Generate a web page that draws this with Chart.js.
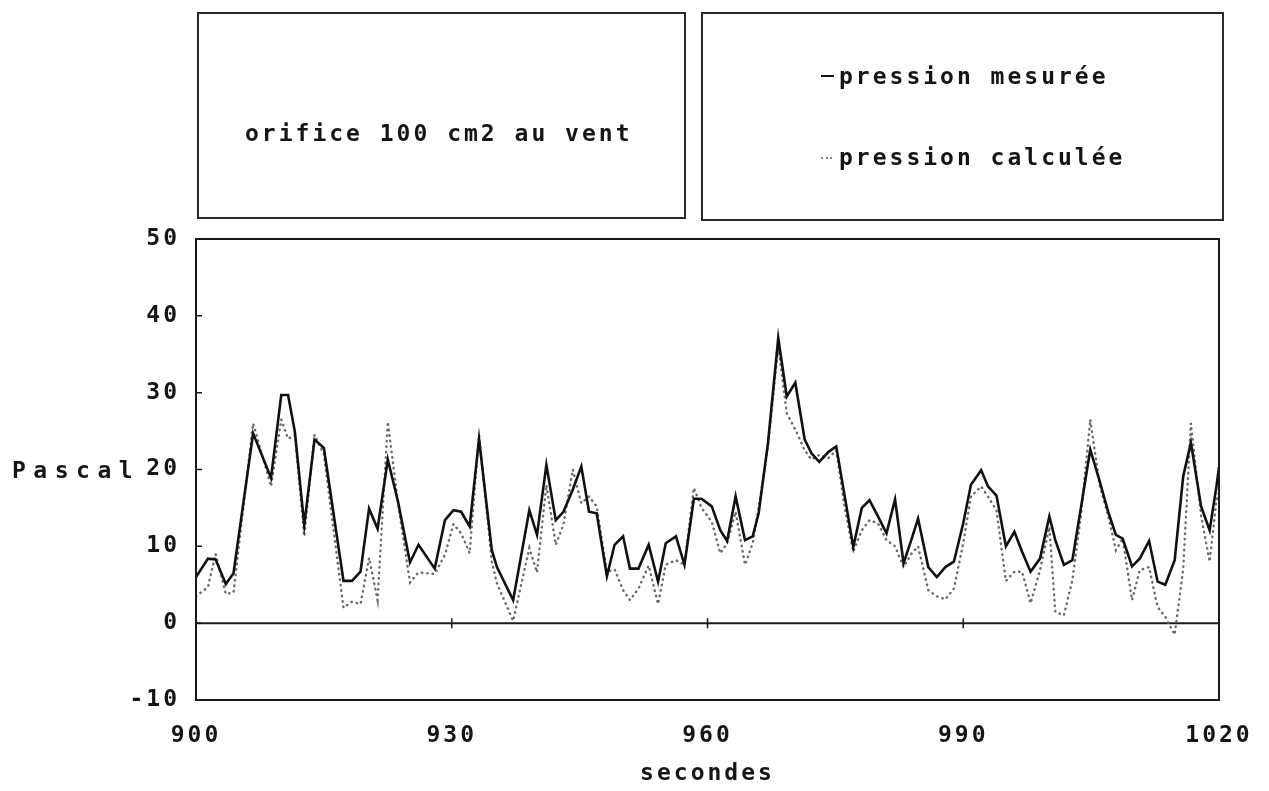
<!DOCTYPE html>
<html>
<head>
<meta charset="utf-8">
<script src="https://cdn.jsdelivr.net/npm/chart.js@4.4.1/dist/chart.umd.min.js"></script>
<style>
  html, body { margin: 0; padding: 0; background: #fff; }
  #wrap { position: relative; width: 1269px; height: 791px; overflow: hidden; background: #fff; }
  canvas { position: absolute; left: 0; top: 0; }
  .box { position: absolute; border: 2px solid #2a2a2a; box-sizing: border-box; }
  .txt { position: absolute; font-family: "DejaVu Sans Mono", monospace; font-weight: bold;
         font-size: 23px; line-height: 1; letter-spacing: 3px; white-space: pre; color: #151515; }
</style>
</head>
<body>
<div id="wrap">
  <canvas id="c" width="1269" height="791"></canvas>
  <div class="box" style="left:197px;top:12px;width:489px;height:207px;"></div>
  <div class="box" style="left:701px;top:12px;width:523px;height:209px;"></div>
  <div class="txt" style="left:245px;top:122px;">orifice 100 cm2 au vent</div>
  <div class="txt" style="left:839px;top:65px;">pression mesurée</div>
  <div class="txt" style="left:839px;top:146px;">pression calculée</div>
  <div style="position:absolute;left:821px;top:75px;width:13px;height:2px;background:#151515;"></div>
  <div style="position:absolute;left:821px;top:157px;width:11px;height:0;border-top:2px dotted #888;"></div>
  <div class="txt" style="left:12px;top:459px;letter-spacing:7.5px;">Pascal</div>
</div>
<script>
// ---- data ----
const secondes = [
  900.0, 901.4, 902.3, 903.5, 904.4, 906.7, 908.8, 910.0, 910.8, 911.6,
  912.7, 913.9, 915.0, 917.3, 918.3, 919.3, 920.3, 921.3, 922.5, 923.7,
  925.1, 926.1, 928.0, 929.2, 930.2, 931.1, 932.1, 933.2, 934.7, 935.3,
  937.2, 939.1, 940.0, 941.1, 942.2, 943.1, 944.2, 945.2, 946.1, 947.0,
  948.2, 949.1, 950.1, 950.9, 951.9, 953.1, 954.2, 955.1, 956.3, 957.3,
  958.4, 959.3, 960.5, 961.5, 962.3, 963.3, 964.4, 965.3, 966.0, 967.1,
  968.3, 969.3, 970.3, 971.4, 972.2, 973.1, 974.2, 975.1, 976.1, 977.1,
  978.1, 979.0, 980.0, 981.0, 982.0, 983.0, 983.9, 984.7, 985.9, 986.9,
  987.9, 988.9, 990.0, 990.9, 992.1, 992.9, 993.9, 995.0, 996.0, 996.9,
  997.9, 999.0, 1000.1, 1000.8, 1001.8, 1002.8, 1003.8, 1004.9, 1006.0, 1007.0,
  1007.9, 1008.7, 1009.8, 1010.7, 1011.8, 1012.8, 1013.7, 1014.8, 1015.8, 1016.7,
  1017.9, 1018.9, 1019.7, 1020.0
];
const pressionMesuree = [
  6.0, 8.4, 8.3, 5.1, 6.5, 24.7, 18.9, 29.7, 29.7, 24.9,
  12.8, 23.9, 22.8, 5.5, 5.5, 6.7, 14.9, 12.3, 21.3, 15.8,
  7.9, 10.2, 7.1, 13.4, 14.7, 14.5, 12.6, 24.0, 9.5, 7.3,
  3.0, 14.7, 11.5, 20.6, 13.4, 14.5, 17.4, 20.4, 14.5, 14.3,
  6.1, 10.2, 11.3, 7.1, 7.1, 10.2, 5.4, 10.4, 11.3, 7.6,
  16.2, 16.2, 15.2, 12.1, 10.7, 16.5, 10.8, 11.3, 14.3, 23.5,
  37.1, 29.5, 31.3, 23.9, 22.1, 21.0, 22.3, 23.0, 16.5, 9.9,
  15.0, 16.0, 13.9, 11.7, 16.1, 7.8, 10.8, 13.6, 7.3, 6.0,
  7.3, 8.0, 13.0, 18.0, 19.9, 17.8, 16.6, 10.0, 11.9, 9.3,
  6.7, 8.4, 13.9, 10.8, 7.6, 8.2, 15.0, 22.6, 18.5, 14.5,
  11.5, 11.0, 7.4, 8.4, 10.7, 5.4, 5.0, 8.2, 19.1, 23.5,
  15.2, 12.1, 17.8, 20.3
];
const pressionCalculee = [
  3.5, 4.7, 9.0, 3.8, 4.0, 26.0, 17.8, 26.5, 24.0, 24.5,
  11.3, 24.5, 22.0, 2.0, 2.8, 2.5, 8.5, 3.0, 26.2, 15.6,
  5.3, 6.6, 6.4, 8.9, 12.9, 11.7, 9.1, 24.5, 8.0, 5.2,
  0.3, 9.8, 6.6, 18.0, 10.2, 12.8, 20.0, 15.6, 16.5, 15.2,
  6.7, 7.0, 4.3, 3.0, 4.5, 7.5, 2.5, 7.6, 8.2, 7.6,
  17.6, 15.0, 13.2, 9.1, 10.4, 14.5, 7.6, 10.4, 15.0, 23.0,
  36.0, 27.3, 25.2, 22.5, 21.3, 21.9, 21.5, 22.5, 15.0, 9.3,
  12.1, 13.4, 13.0, 10.8, 10.0, 7.3, 9.0, 10.0, 4.3, 3.5,
  3.1, 4.5, 10.4, 16.5, 17.8, 16.5, 14.7, 5.5, 6.7, 6.7,
  2.6, 6.9, 12.5, 1.5, 1.0, 5.6, 14.0, 26.5, 18.0, 14.0,
  9.5, 11.0, 3.0, 6.9, 7.3, 2.1, 0.8, -1.5, 7.0, 26.0,
  14.0, 8.0, 16.0, 17.0
];
const xTickValues = [900, 930, 960, 990, 1020];
const yTickValues = [-10, 0, 10, 20, 30, 40, 50];

const FONT = { family: '"DejaVu Sans Mono", monospace', size: 23, weight: 'bold' };

const framePlugin = {
  id: 'frame',
  beforeDraw(chart) { chart.ctx.letterSpacing = '3px'; },
  beforeDatasetsDraw(chart) {
    const { ctx, chartArea: a, scales: { x, y } } = chart;
    ctx.save();
    ctx.letterSpacing = '0px';
    ctx.strokeStyle = '#1a1a1a';
    ctx.lineWidth = 2;
    const y0 = y.getPixelForValue(0);
    ctx.beginPath();
    ctx.moveTo(a.left, y0); ctx.lineTo(a.right, y0);
    ctx.stroke();
    ctx.lineWidth = 1.5;
    ctx.beginPath();
    xTickValues.forEach(v => {
      if (v > x.min && v < x.max) {
        const p = x.getPixelForValue(v);
        ctx.moveTo(p, y0 - 5); ctx.lineTo(p, y0 + 5);
      }
    });
    yTickValues.forEach(v => {
      if (v > y.min && v < y.max) {
        const p = y.getPixelForValue(v);
        ctx.moveTo(a.left, p); ctx.lineTo(a.left + 6, p);
      }
    });
    ctx.stroke();
    ctx.restore();
  },
  afterDraw(chart) {
    const { ctx, chartArea: a } = chart;
    ctx.save();
    ctx.strokeStyle = '#1a1a1a';
    ctx.lineWidth = 2;
    ctx.strokeRect(a.left, a.top, a.right - a.left, a.bottom - a.top);
    ctx.restore();
  }
};

const toPoints = vals => secondes.map((t, i) => ({ x: t, y: vals[i] }));

new Chart(document.getElementById('c'), {
  type: 'line',
  data: {
    datasets: [
      {
        label: 'pression mesurée',
        data: toPoints(pressionMesuree),
        borderColor: '#111',
        borderWidth: 2.6,
        pointRadius: 0,
        tension: 0,
        order: 0
      },
      {
        label: 'pression calculée',
        data: toPoints(pressionCalculee),
        borderColor: '#6a6a6a',
        borderWidth: 2.4,
        borderDash: [0.5, 5],
        borderCapStyle: 'round',
        pointRadius: 0,
        tension: 0,
        order: 1
      }
    ]
  },
  options: {
    responsive: false,
    animation: false,
    devicePixelRatio: 1,
    layout: { padding: { left: 0, top: 239, right: 50, bottom: 0 } },
    plugins: { legend: { display: false }, tooltip: { enabled: false }, title: { display: false } },
    scales: {
      x: {
        type: 'linear',
        min: 900, max: 1020,
        grid: { display: false, drawTicks: false },
        border: { display: false },
        afterFit: s => { s.height = 91; },
        afterBuildTicks: s => { s.ticks = xTickValues.map(v => ({ value: v })); },
        ticks: { font: FONT, color: '#151515', padding: 22, maxRotation: 0, autoSkip: false,
                 callback: v => String(v) },
        title: { display: true, text: 'secondes', font: FONT, color: '#151515', padding: { top: 0, bottom: 3 } }
      },
      y: {
        type: 'linear',
        min: -10, max: 50,
        grid: { display: false, drawTicks: false },
        border: { display: false },
        afterFit: s => { s.width = 196; },
        afterBuildTicks: s => { s.ticks = yTickValues.map(v => ({ value: v })); },
        ticks: { font: FONT, color: '#151515', padding: 16, callback: v => String(v) }
      }
    }
  },
  plugins: [framePlugin]
});
</script>
</body>
</html>
